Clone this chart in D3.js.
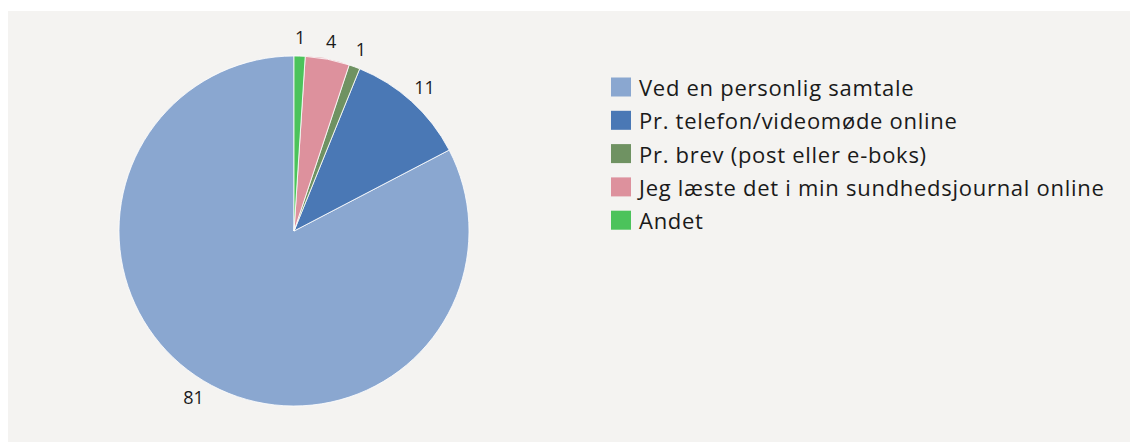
<!DOCTYPE html>
<html>
<head>
<meta charset="utf-8">
<script src="https://cdn.jsdelivr.net/npm/d3@7"></script>
<style>
  html, body { margin: 0; padding: 0; background: #ffffff; }
  svg { display: block; }
  text { font-family: "Open Sans", "Noto Sans", sans-serif; fill: #1a1a1a; }
</style>
</head>
<body>
<svg id="chart" width="1132" height="443"></svg>
<script>
// Data
const categories = [
  "Ved en personlig samtale",
  "Pr. telefon/videomøde online",
  "Pr. brev (post eller e-boks)",
  "Jeg læste det i min sundhedsjournal online",
  "Andet"
];
const values = [81, 11, 1, 4, 1];
const colors = ["#8aa7d0", "#4a78b5", "#6f9262", "#dd919d", "#4cc35b"];

const W = 1132, H = 443;
const svg = d3.select("#chart");

// panel
svg.append("rect")
  .attr("x", 8).attr("y", 11)
  .attr("width", 1122).attr("height", 431)
  .attr("fill", "#f4f3f1");

const cx = 294, cy = 231, R = 175;
const data = categories.map((c, i) => ({ cat: c, value: values[i], color: colors[i] }));

const pie = d3.pie()
  .value(d => d.value)
  .sort(null)
  .startAngle(0)
  .endAngle(-2 * Math.PI);

const arcs = pie(data);
const arc = d3.arc().innerRadius(0).outerRadius(R);

const g = svg.append("g").attr("transform", `translate(${cx},${cy})`);

g.selectAll("path.slice")
  .data(arcs)
  .join("path")
  .attr("class", "slice")
  .attr("d", arc)
  .attr("fill", d => d.data.color)
  .attr("stroke", "#ffffff")
  .attr("stroke-opacity", 0.8)
  .attr("stroke-width", 1);

// labels
const labelR = 194;
g.selectAll("text.lbl")
  .data(arcs)
  .join("text")
  .attr("class", "lbl")
  .attr("x", d => {
    const a = (d.startAngle + d.endAngle) / 2;
    return labelR * Math.sin(a);
  })
  .attr("y", d => {
    const a = (d.startAngle + d.endAngle) / 2;
    return -labelR * Math.cos(a);
  })
  .attr("text-anchor", "middle")
  .attr("dominant-baseline", "central")
  .attr("font-size", 18)
  .text(d => d.data.value);

// legend
const legX = 611, legY0 = 87, legStep = 33.3;
const leg = svg.append("g");
const items = leg.selectAll("g.item")
  .data(data)
  .join("g")
  .attr("class", "item")
  .attr("transform", (d, i) => `translate(${legX},${legY0 + i * legStep})`);

items.append("rect")
  .attr("x", 0).attr("y", -9.5)
  .attr("width", 20).attr("height", 19)
  .attr("fill", d => d.color);

items.append("text")
  .attr("x", 28)
  .attr("y", 0)
  .attr("dominant-baseline", "central")
  .attr("font-size", 22)
  .attr("letter-spacing", 0.72)
  .text(d => d.cat);
</script>
</body>
</html>
